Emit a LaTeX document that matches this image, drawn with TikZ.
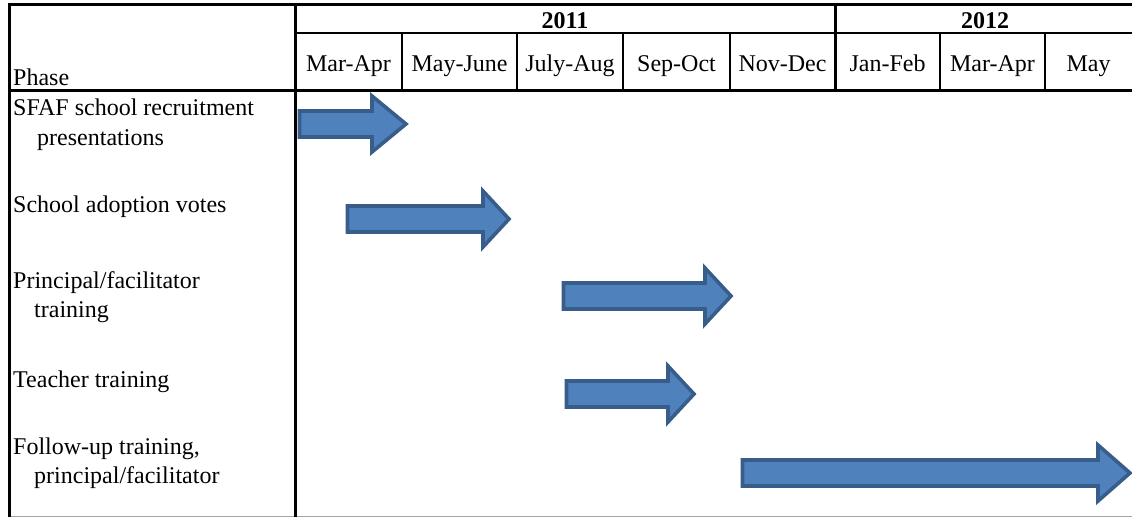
\documentclass[tikz,border=0pt]{standalone}
\usepackage{fontspec}
\setmainfont{Liberation Serif}
\usepackage{xcolor}
\definecolor{barfill}{HTML}{4F81BD}
\definecolor{barline}{HTML}{385D8A}
\newcommand{\ganttbar}[4]{%
  \draw[bar] (#1,{#4-13}) -- (#2,{#4-13}) -- (#2,{#4-28}) -- (#3,#4)
    -- (#2,{#4+28}) -- (#2,{#4+13}) -- (#1,{#4+13}) -- cycle;}
\tikzset{
  rule/.style={line width=3pt,black},
  thinrule/.style={line width=2.2pt,black},
  phase/.style={anchor=base west,inner sep=0pt,font=\fontsize{24}{29}\selectfont},
  month/.style={anchor=base,inner sep=0pt,font=\fontsize{24}{29}\selectfont},
  year/.style={anchor=base,inner sep=0pt,font=\fontsize{24}{29}\selectfont\bfseries},
  bar/.style={fill=barfill,draw=barline,line width=3.6pt,miter limit=10}
}
\begin{document}
\begin{tikzpicture}[x=1pt,y=-1pt]
  \useasboundingbox[fill=white] (0,0) rectangle (1132,519);
  \draw[gray!70,line width=1pt] (9,516) -- (1132,516);
  \draw[rule] (9,5) -- (1132,5);
  \draw[thinrule] (295,33) -- (1132,33);
  \draw[rule] (9,90) -- (1132,90);
  \draw[rule] (9,3.5) -- (9,517);
  \draw[rule] (295,3.5) -- (295,517);
  \draw[rule] (835,5) -- (835,90);
  \foreach \x in {402,517,623,730,940,1045}
    \draw[thinrule] (\x,33) -- (\x,90);
  \node[year] (y2011) at (565,29) {2011};
  \node[year] (y2012) at (985,29) {2012};
  \foreach \x/\t [count=\i] in {348.5/Mar-Apr,459.5/May-June,570/July-Aug,676.5/Sep-Oct,
      782.5/Nov-Dec,887.5/Jan-Feb,992.5/Mar-Apr,1088.5/May}
    \node[month] (m\i) at (\x,71) {\t};
  \node[phase] (phase) at (13,85) {Phase};
  \node[phase] (sfaf) at (13,115) {SFAF school recruitment};
  \node[phase] (sfafb) at (37,145) {presentations};
  \node[phase] (vote) at (13,212) {School adoption votes};
  \node[phase] (princ) at (13,288) {Principal/facilitator};
  \node[phase] (princb) at (34,317) {training};
  \node[phase] (teach) at (13,387) {Teacher training};
  \node[phase] (follow) at (13,454) {Follow-up training,};
  \node[phase] (followb) at (34,483) {principal/facilitator};
  \ganttbar{299.5}{372}{406}{124}
  \ganttbar{347.5}{483}{509}{219}
  \ganttbar{563.5}{705}{731}{296}
  \ganttbar{566.5}{668}{694}{394}
  \ganttbar{742.5}{1098}{1130}{473}
\end{tikzpicture}
\end{document}
